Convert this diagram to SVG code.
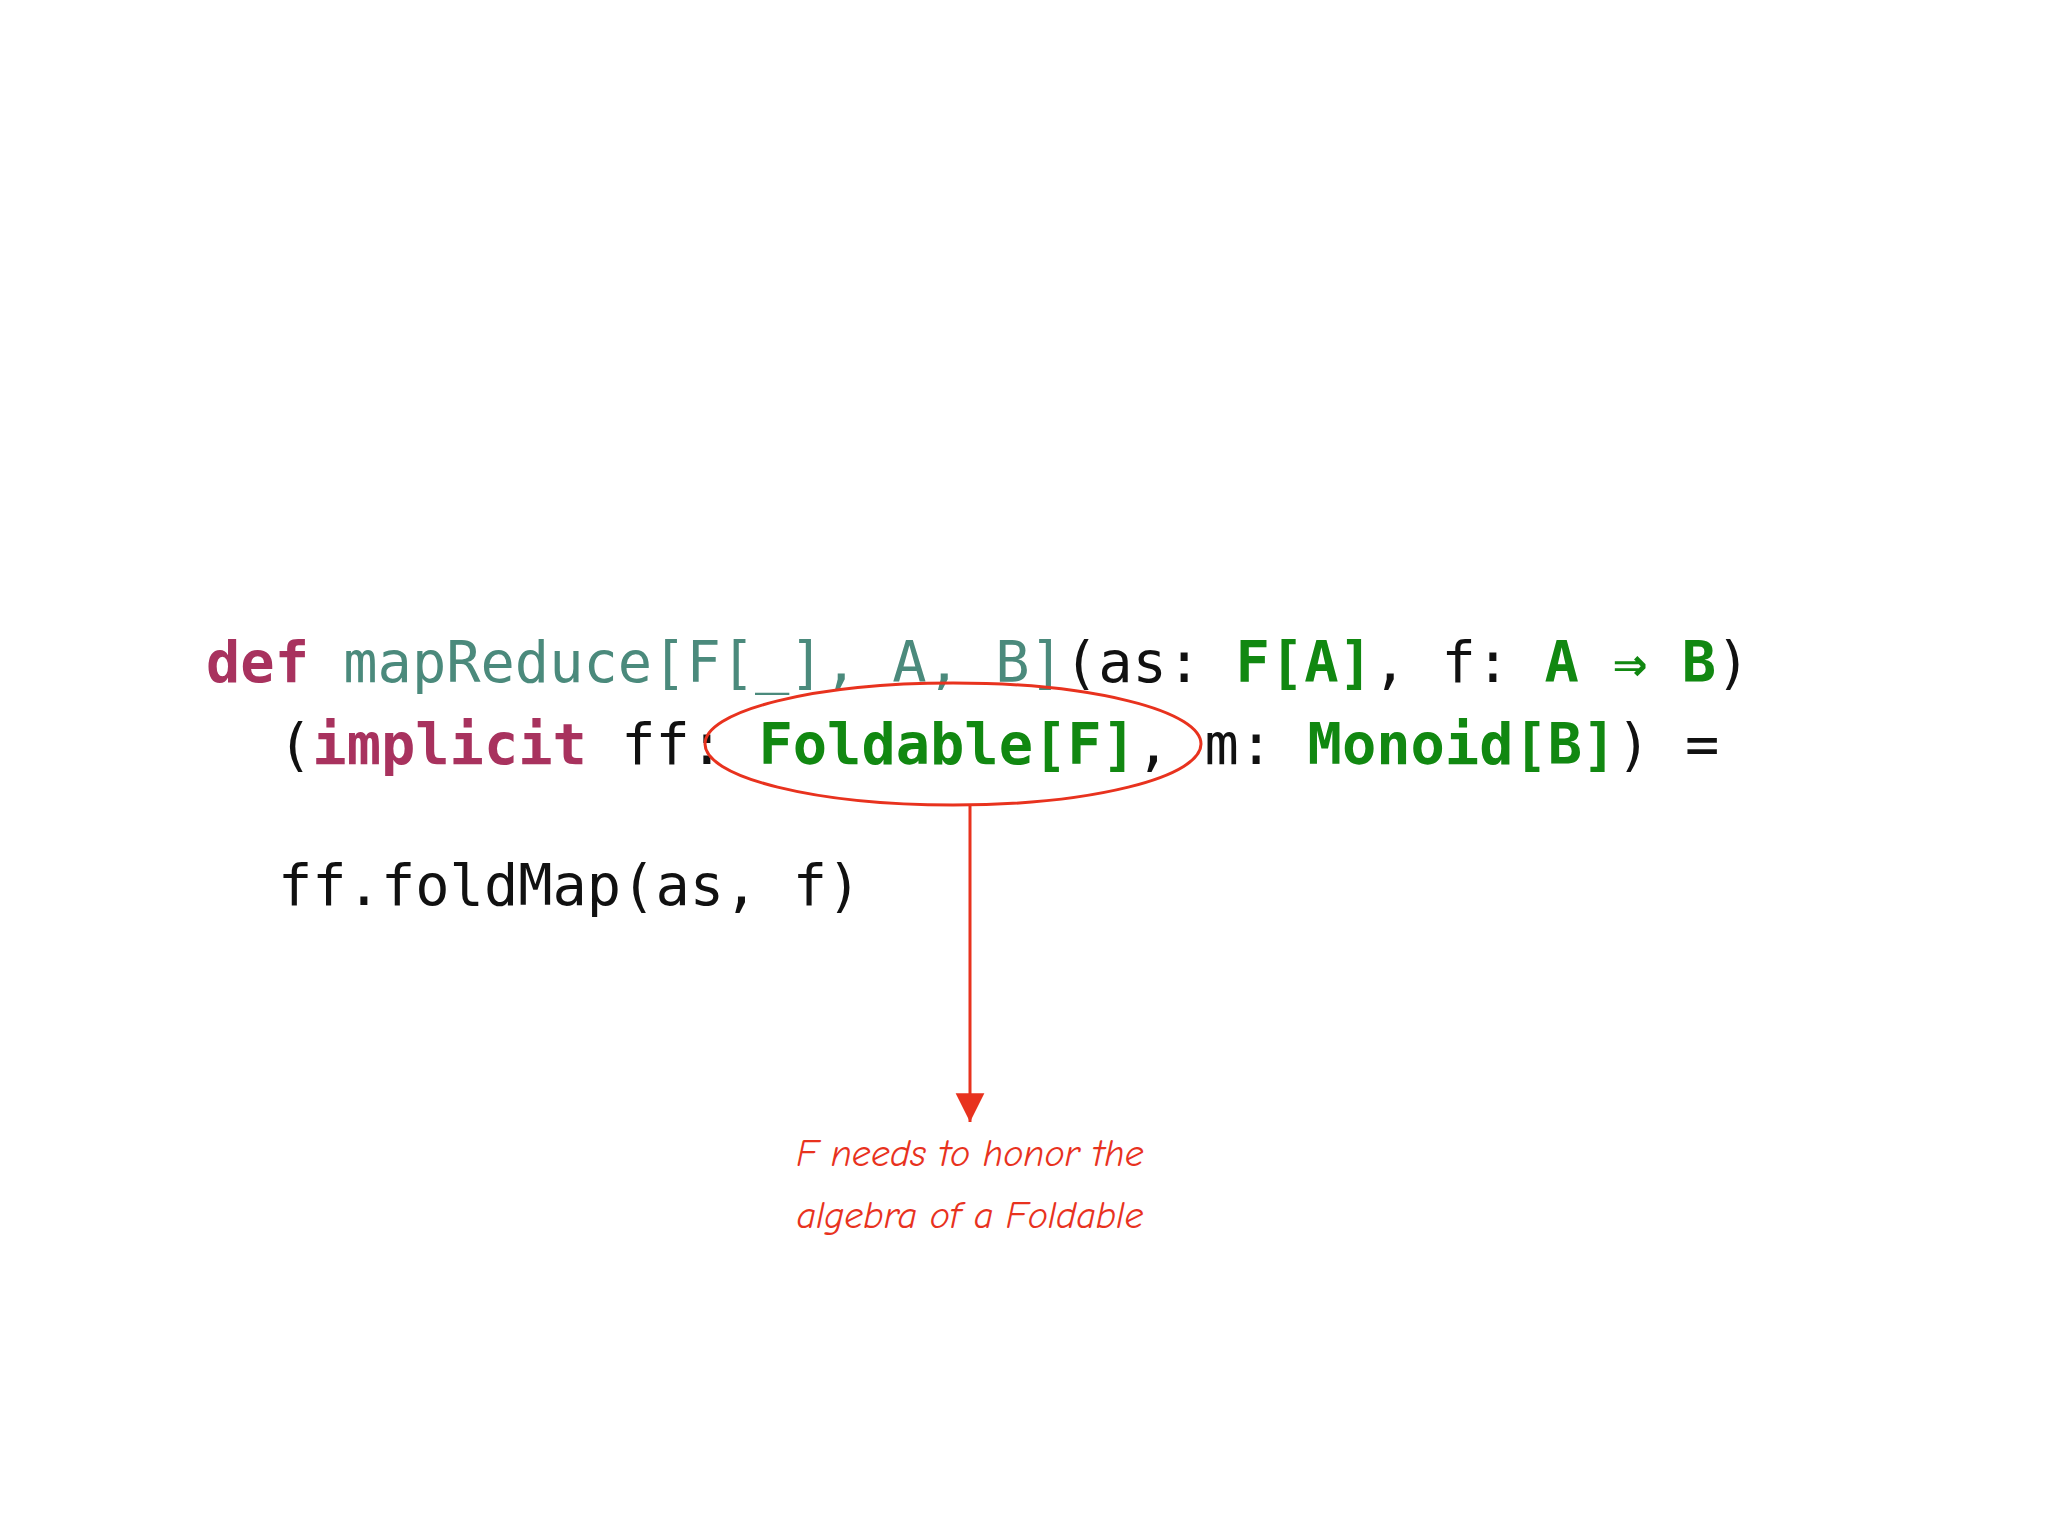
<svg xmlns="http://www.w3.org/2000/svg" width="2048" height="1536" viewBox="0 0 2048 1536">
<style>
.code{font-family:"DejaVu Sans Mono","Liberation Mono",monospace;font-size:57px;fill:#111}
.kw{fill:#a8325e;font-weight:bold}
.nm{fill:#4b8a7c}
.ty{fill:#118811;font-weight:bold}
.note{font-family:"Comic Neue","DejaVu Sans",sans-serif;font-style:italic;font-size:38px;fill:#e8321e}
</style>
<defs>
<marker id="ah" markerWidth="10" markerHeight="10" refX="5" refY="8" orient="auto" markerUnits="userSpaceOnUse" viewBox="0 0 10 10"><path d="M0,0 L10,0 L5,10 Z" fill="#e8321e"/></marker>
<marker id="arr" viewBox="0 0 20 20" refX="10" refY="18" markerWidth="36" markerHeight="36" markerUnits="userSpaceOnUse" orient="0"><path d="M2,2 L18,2 L10,18 Z" fill="#e8321e"/></marker>
</defs>
<rect width="2048" height="1536" fill="#fff"/>
<g id="code">
<text class="code" x="206" y="682" xml:space="preserve"><tspan class="kw">def</tspan> <tspan class="nm">mapReduce[F[_], A, B]</tspan>(as: <tspan class="ty">F[A]</tspan>, f: <tspan class="ty">A ⇒ B</tspan>)</text>
<text class="code" x="278" y="764" xml:space="preserve">(<tspan class="kw">implicit</tspan> ff: <tspan class="ty">Foldable[F]</tspan>, m: <tspan class="ty">Monoid[B]</tspan>) =</text>
<text class="code" x="278" y="905" xml:space="preserve">ff.foldMap(as, f)</text>
</g>
<g id="highlight">
<ellipse cx="953" cy="744" rx="248" ry="61" fill="none" stroke="#e8321e" stroke-width="3"/>
</g>
<g id="connectors">
<line x1="970" y1="806" x2="970" y2="1122" stroke="#e8321e" stroke-width="3" marker-end="url(#arr)"/>
</g>
<g id="note">
<text class="note" x="970" y="1166" text-anchor="middle">F needs to honor the</text>
<text class="note" x="970" y="1228" text-anchor="middle">algebra of a Foldable</text>
</g>
</svg>
